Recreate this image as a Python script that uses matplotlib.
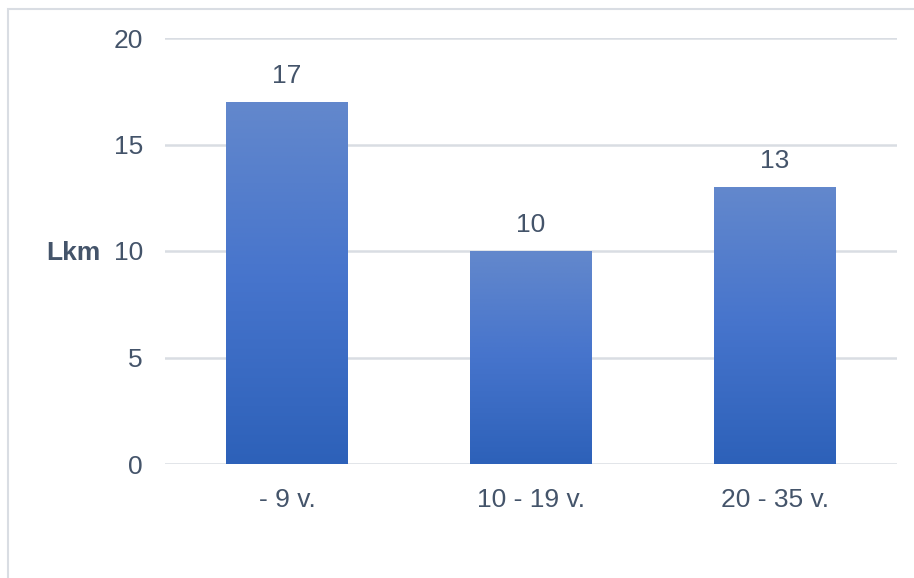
import matplotlib.pyplot as plt
import numpy as np
from matplotlib.colors import LinearSegmentedColormap
from matplotlib.patches import Rectangle

categories = ['- 9 v.', '10 - 19 v.', '20 - 35 v.']
values = [17, 10, 13]
y_ticks = [0, 5, 10, 15, 20]

plt.rcParams['font.family'] = ['Liberation Sans', 'DejaVu Sans']
text_color = '#44546A'
grid_color = '#D9DDE3'

fig = plt.figure(figsize=(9.14, 5.78), dpi=100)
ax = fig.add_axes([165 / 914, 1 - 464 / 578, 732 / 914, 426 / 578])

x = np.arange(len(categories))
bar_width = 0.5
bars = ax.bar(x, values, bar_width, color='none', zorder=3)

# vertical gradient inside each bar
cmap = LinearSegmentedColormap.from_list('grad', ['#2D61B9', '#4674CC', '#6388CC'])
grad = np.linspace(0, 1, 256).reshape(-1, 1)
for b in bars:
    im = ax.imshow(grad, cmap=cmap, origin='lower', aspect='auto',
                   extent=[b.get_x(), b.get_x() + b.get_width(), 0, b.get_height()],
                   zorder=3)
    im.set_clip_path(b)

for xi, v in zip(x, values):
    ax.annotate(str(v), (xi, v), xytext=(0, 10), textcoords='offset points',
                ha='center', va='bottom', fontsize=19, color=text_color)

ax.set_xlim(-0.5, 2.5)
ax.set_ylim(0, 20)
ax.set_yticks(y_ticks)
ax.set_xticks(x, categories)
ax.tick_params(axis='both', length=0, labelsize=19, labelcolor=text_color)
ax.tick_params(axis='y', pad=16)
ax.tick_params(axis='x', pad=17)
ax.grid(axis='y', color=grid_color, linewidth=1.8, zorder=0)
for s in ax.spines.values():
    s.set_visible(False)

fig.text(100 / 914, 1 - 253 / 578, 'Lkm', ha='right', va='center',
         fontsize=19, fontweight='bold', color=text_color)

# chart area border (top and left visible)
fig.patches.append(Rectangle((8 / 914, -0.1), 1.0, 1 - 9 / 578 + 0.1,
                             transform=fig.transFigure, fill=False,
                             edgecolor=grid_color, linewidth=1.5))

fig.savefig('out.png', dpi=100)
